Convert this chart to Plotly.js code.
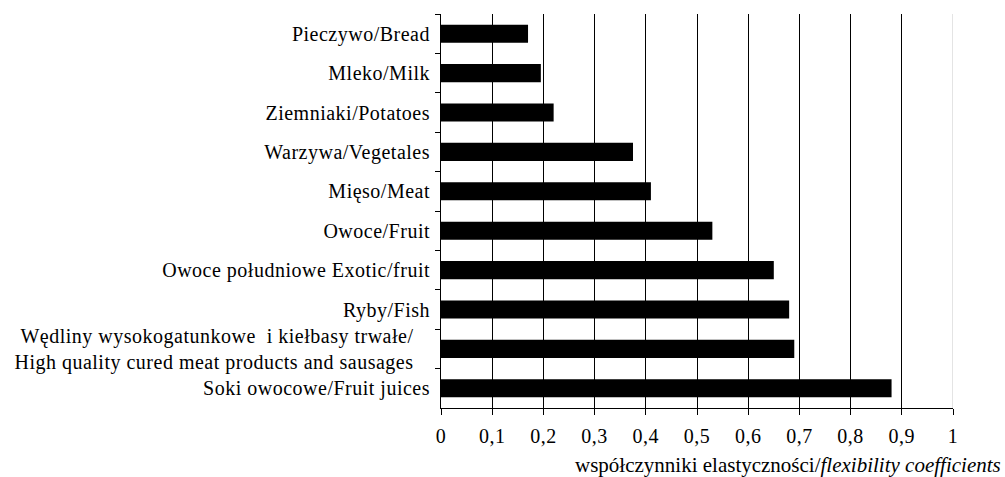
<!DOCTYPE html>
<html>
<head>
<meta charset="utf-8">
<script src="https://cdn.plot.ly/plotly-3.0.1.min.js"></script>
<style>
html,body{margin:0;padding:0;background:#fff;}
#chart{width:1005px;height:477px;}
#chart .ytick text, #chart .xtick text{letter-spacing:0.5px;}
</style>
</head>
<body>
<div id="chart"></div>
<script>
var categories = [
  "Pieczywo/Bread",
  "Mleko/Milk",
  "Ziemniaki/Potatoes",
  "Warzywa/Vegetales",
  "Mięso/Meat",
  "Owoce/Fruit",
  "Owoce południowe Exotic/fruit",
  "Ryby/Fish",
  "Wędliny wysokogatunkowe  i kiełbasy trwałe/\u00a0\u00a0\u00a0<br>High quality cured meat products and sausages\u00a0\u00a0\u00a0",
  "Soki owocowe/Fruit juices"
];
var values = [0.17, 0.195, 0.22, 0.375, 0.41, 0.53, 0.65, 0.68, 0.69, 0.88];
var tickValues = [0, 0.1, 0.2, 0.3, 0.4, 0.5, 0.6, 0.7, 0.8, 0.9, 1];
var tickLabels = ["0", "0,1", "0,2", "0,3", "0,4", "0,5", "0,6", "0,7", "0,8", "0,9", "1"];
var axisTitle = "współczynniki elastyczności/<i>flexibility coefficients</i>";

var font = {family: "Liberation Serif, Times New Roman, serif", size: 20, color: "#000"};
var titleFont = {family: "Liberation Serif, Times New Roman, serif", size: 21, color: "#000"};

var trace = {
  type: "bar",
  orientation: "h",
  y: categories,
  x: values,
  marker: {color: "#000", line: {width: 0}},
  hoverinfo: "x+y"
};

var layout = {
  width: 1005,
  height: 477,
  margin: {l: 441, r: 52, t: 14, b: 69, pad: 0},
  paper_bgcolor: "#fff",
  plot_bgcolor: "#fff",
  font: font,
  bargap: 0.54,
  showlegend: false,
  xaxis: {
    range: [0, 1],
    tickvals: tickValues,
    ticktext: tickLabels,
    showgrid: true,
    gridcolor: "#000",
    gridwidth: 1,
    zeroline: false,
    showline: true,
    linecolor: "#000",
    linewidth: 1,
    ticks: "outside",
    ticklen: 6,
    tickcolor: "#000",
    tickfont: font,
    ticklabelstandoff: 4,
    fixedrange: true
  },
  yaxis: {
    type: "category",
    autorange: "reversed",
    showgrid: false,
    zeroline: false,
    showline: true,
    linecolor: "#000",
    linewidth: 1,
    ticks: "outside",
    tickson: "boundaries",
    ticklen: 5,
    tickcolor: "#000",
    tickfont: font,
    ticklabelstandoff: 6,
    automargin: false,
    fixedrange: true
  },
  shapes: [{
    type: "line", xref: "x", yref: "paper", x0: 1, x1: 1, y0: 0, y1: 1,
    line: {color: "#c8c8c8", width: 1}, layer: "above"
  }],
  annotations: [{
    text: axisTitle,
    xref: "paper", yref: "paper",
    x: 1, y: 0,
    xanchor: "right", yanchor: "middle",
    xshift: 50, yshift: -57,
    showarrow: false,
    font: titleFont
  }]
};

Plotly.newPlot("chart", [trace], layout, {displayModeBar: false, staticPlot: true});
</script>
</body>
</html>
